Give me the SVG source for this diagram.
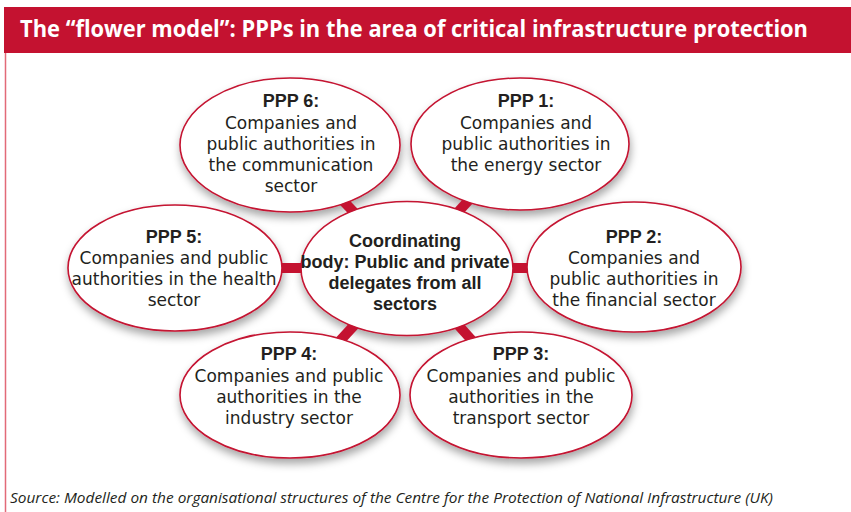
<svg xmlns="http://www.w3.org/2000/svg" width="851" height="512" viewBox="0 0 851 512">
<style>
.node ellipse{fill:#fff;stroke:#C41230;stroke-width:1.6;filter:url(#sh)}
.t{font-family:"DejaVu Sans",sans-serif;font-size:17px;fill:#231F20;text-anchor:middle}
.b{font-family:"Liberation Sans",Arial,sans-serif;font-size:18px;font-weight:bold}
.con line{stroke:#C41230;stroke-width:10}
.m{fill:#000}
</style>
<defs>
<filter id="sh" x="-20%" y="-20%" width="140%" height="150%">
<feDropShadow dx="1" dy="5" stdDeviation="4" flood-color="#000" flood-opacity="0.35"/>
</filter>
<mask id="gaps" maskUnits="userSpaceOnUse" x="0" y="0" width="851" height="512">
<rect width="851" height="512" fill="#fff"/>
<ellipse class="m" cx="290" cy="145" rx="110" ry="67"/>
<ellipse class="m" cx="520" cy="144" rx="109" ry="66"/>
<ellipse class="m" cx="175" cy="268" rx="107" ry="63"/>
<ellipse class="m" cx="634" cy="267" rx="107" ry="65"/>
<ellipse class="m" cx="407" cy="268.5" rx="106" ry="67"/>
<ellipse class="m" cx="290" cy="395" rx="110" ry="63"/>
<ellipse class="m" cx="521" cy="395" rx="111" ry="63"/>
</mask>
</defs>
<rect width="851" height="512" fill="#fff"/>
<rect x="4" y="7" width="847" height="46" fill="#C41230"/>
<line x1="5.5" y1="53" x2="5.5" y2="512" stroke="#E26A78" stroke-width="1.5"/>
<text x="20" y="37" font-family="'Open Sans','Noto Sans',sans-serif" font-weight="bold" font-size="23" fill="#fff" textLength="788" lengthAdjust="spacingAndGlyphs">The “flower model”: PPPs in the area of critical infrastructure protection</text>

<g id="ppp6" class="node"><ellipse cx="290" cy="145" rx="110" ry="67"/>
<text class="t"><tspan class="b" x="291" y="107">PPP 6:</tspan><tspan x="291" y="129">Companies and</tspan><tspan x="291" y="150">public authorities in</tspan><tspan x="291" y="171">the communication</tspan><tspan x="291" y="192">sector</tspan></text></g>

<g id="ppp1" class="node"><ellipse cx="520" cy="144" rx="109" ry="66"/>
<text class="t"><tspan class="b" x="526" y="107">PPP 1:</tspan><tspan x="526" y="129">Companies and</tspan><tspan x="526" y="150">public authorities in</tspan><tspan x="526" y="171">the energy sector</tspan></text></g>

<g id="ppp5" class="node"><ellipse cx="175" cy="268" rx="107" ry="63"/>
<text class="t"><tspan class="b" x="174" y="243">PPP 5:</tspan><tspan x="174" y="264">Companies and public</tspan><tspan x="174" y="285">authorities in the health</tspan><tspan x="174" y="306">sector</tspan></text></g>

<g id="ppp2" class="node"><ellipse cx="634" cy="267" rx="107" ry="65"/>
<text class="t"><tspan class="b" x="634" y="243">PPP 2:</tspan><tspan x="634" y="264">Companies and</tspan><tspan x="634" y="285">public authorities in</tspan><tspan x="634" y="306">the financial sector</tspan></text></g>

<g id="center" class="node"><ellipse cx="407" cy="268.5" rx="106" ry="67"/>
<text class="t b"><tspan x="405" y="247">Coordinating</tspan><tspan x="405" y="268">body: Public and private</tspan><tspan x="405" y="289">delegates from all</tspan><tspan x="405" y="310">sectors</tspan></text></g>

<g id="ppp4" class="node"><ellipse cx="290" cy="395" rx="110" ry="63"/>
<text class="t"><tspan class="b" x="289" y="360">PPP 4:</tspan><tspan x="289" y="382">Companies and public</tspan><tspan x="289" y="403">authorities in the</tspan><tspan x="289" y="424">industry sector</tspan></text></g>

<g id="ppp3" class="node"><ellipse cx="521" cy="395" rx="111" ry="63"/>
<text class="t"><tspan class="b" x="521" y="360">PPP 3:</tspan><tspan x="521" y="382">Companies and public</tspan><tspan x="521" y="403">authorities in the</tspan><tspan x="521" y="424">transport sector</tspan></text></g>

<g id="connectors" class="con" mask="url(#gaps)">
<line x1="290" y1="145" x2="407" y2="268"/>
<line x1="520" y1="144" x2="407" y2="268"/>
<line x1="175" y1="268" x2="407" y2="268"/>
<line x1="634" y1="268" x2="407" y2="268"/>
<line x1="290" y1="395" x2="407" y2="268"/>
<line x1="521" y1="395" x2="407" y2="268"/>
</g>

<text x="10" y="503" font-family="'Open Sans','Noto Sans',sans-serif" font-style="italic" font-size="14" fill="#231F20" textLength="763" lengthAdjust="spacingAndGlyphs">Source: Modelled on the organisational structures of the Centre for the Protection of National Infrastructure (UK)</text>
</svg>
